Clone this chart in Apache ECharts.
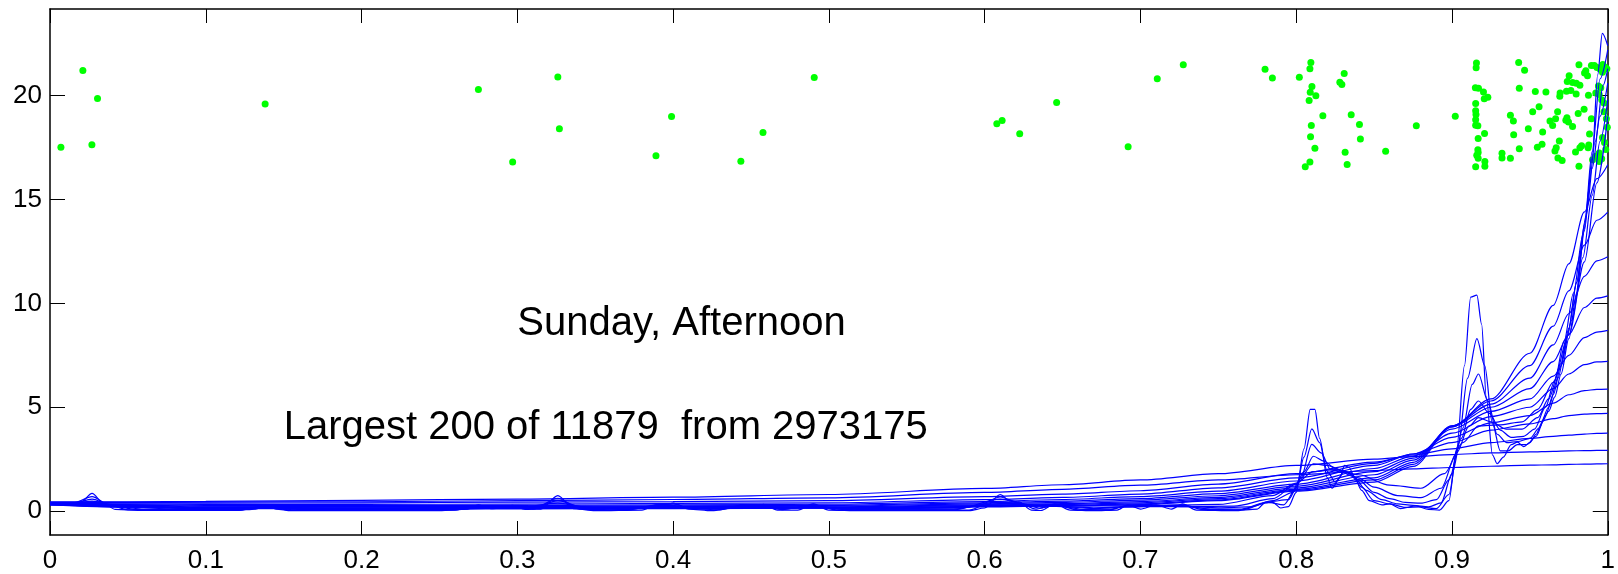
<!DOCTYPE html>
<html>
<head>
<meta charset="utf-8">
<script src="https://cdn.jsdelivr.net/npm/echarts@6/dist/echarts.min.js"></script>
<style>
  html, body { margin: 0; padding: 0; background: #fff; }
  #chart { width: 1618px; height: 574px; }
</style>
</head>
<body>
<div id="chart"></div>
<script>
// tick values
const xTicks = [0, 0.1, 0.2, 0.3, 0.4, 0.5, 0.6, 0.7, 0.8, 0.9, 1]
const yTicks = [0, 5, 10, 15, 20]

// annotations: [x, y, text]
const title = [0.3, 9, 'Sunday, Afternoon']
const subtitle = [0.15, 4, 'Largest 200 of 11879  from 2973175']

// the 200 largest values (x) plotted with a jittered height (y)
const points = [
  [0.0070, 17.52], [0.0211, 21.21], [0.0269, 17.64], [0.0305, 19.86], [0.1381, 19.60],
  [0.275, 20.3], [0.297, 16.8], [0.326, 20.9], [0.327, 18.4], [0.389, 17.1], [0.399, 19.0],
  [0.4435, 16.84], [0.4577, 18.23], [0.4906, 20.87],
  [0.6078, 18.65], [0.6112, 18.80], [0.6225, 18.16], [0.6462, 19.67], [0.6921, 17.54], [0.7108, 20.81], [0.7275, 21.49],
  [0.7800, 21.27], [0.7847, 20.85], [0.8020, 20.88], [0.8094, 21.6], [0.8088, 21.29], [0.8101, 20.44], [0.8090, 20.16],
  [0.8126, 20.0], [0.8083, 19.76], [0.8171, 19.03], [0.8097, 18.56], [0.8092, 18.02], [0.8120, 17.47], [0.8088, 16.8],
  [0.8058, 16.58], [0.8308, 21.06], [0.8280, 20.64], [0.8293, 20.53], [0.8353, 19.08], [0.8406, 18.61], [0.8412, 17.91],
  [0.8314, 17.27], [0.8327, 16.69], [0.8574, 17.32], [0.8771, 18.55],
  [0.9021, 19.01], [0.9157, 21.57], [0.9155, 21.34], [0.915, 20.38], [0.917, 20.35], [0.9202, 20.18], [0.9230, 19.92],
  [0.9207, 19.85], [0.9152, 19.62], [0.9152, 19.27], [0.9154, 19.09], [0.9152, 18.84], [0.9152, 18.58], [0.9166, 18.55],
  [0.9209, 18.18], [0.9168, 17.94], [0.9166, 17.39], [0.9168, 17.26], [0.9159, 17.13], [0.9168, 16.98], [0.9211, 16.83],
  [0.9211, 16.60], [0.9152, 16.58],
  [0.9321, 17.23], [0.9321, 17.0], [0.9375, 16.98], [0.9375, 19.06], [0.9394, 18.78], [0.9396, 18.12], [0.9432, 17.44],
  [0.9428, 21.6], [0.9466, 21.22], [0.9432, 20.35], [0.9490, 18.4], [0.9518, 19.22], [0.9535, 20.2], [0.9559, 19.47],
  [0.9548, 17.52], [0.9582, 18.25], [0.9578, 17.66], [0.9603, 20.18], [0.9629, 18.78], [0.9646, 18.56], [0.9665, 18.89],
  [0.9678, 19.22], [0.9689, 17.82], [0.9669, 17.49], [0.9661, 17.33], [0.9680, 17.0], [0.9707, 16.88], [0.9694, 20.13],
  [0.9692, 19.97], [0.9735, 20.21], [0.9763, 20.25], [0.9740, 20.68], [0.9752, 20.96], [0.9774, 20.63], [0.9798, 20.59],
  [0.9821, 20.5], [0.9731, 18.81], [0.9748, 18.73], [0.9738, 18.93], [0.9774, 18.51], [0.9797, 20.08], [0.9810, 19.14],
  [0.9848, 19.34], [0.9876, 20.02], [0.9815, 21.49], [0.9793, 17.29], [0.9821, 17.49], [0.9832, 17.59], [0.9815, 16.6],
  [0.9851, 21.09], [0.9859, 21.2], [0.9870, 20.96], [0.9895, 21.45], [0.9914, 21.45], [0.9931, 21.35], [0.9968, 21.5],
  [0.9983, 21.37], [0.9994, 21.29], [0.9949, 21.29], [0.9966, 21.12], [0.9883, 18.15], [0.9878, 17.62], [0.9874, 17.49],
  [0.9902, 16.91], [0.9923, 17.08], [0.9940, 20.46], [0.9955, 20.38], [0.9961, 19.8], [0.9976, 19.64], [0.9976, 19.22],
  [0.9991, 18.89], [0.9997, 18.48], [0.9966, 17.99], [0.9979, 17.74], [0.9987, 17.41], [0.9945, 17.24], [0.9961, 16.96],
  [0.9945, 16.83], [0.9923, 20.13], [0.9945, 20.05], [0.9895, 18.89]
]

// smoothed curves, sharpest first ([x, y])
const s1 = [[0,0.3],[0.012,0.33],[0.02,0.45],[0.027,0.85],[0.034,0.4],[0.042,0.08],[0.06,0.03],[0.12,0.03],[0.132,0.1],[0.138,0.3],[0.145,0.1],[0.155,0.02],[0.25,0.02],[0.268,0.1],[0.275,0.3],[0.283,0.12],[0.29,0.15],[0.297,0.28],[0.305,0.08],[0.315,0.1],[0.326,0.75],[0.336,0.12],[0.35,0.02],[0.38,0.05],[0.389,0.3],[0.395,0.3],[0.4,0.38],[0.41,0.1],[0.425,0.02],[0.438,0.15],[0.443,0.3],[0.45,0.15],[0.458,0.32],[0.467,0.05],[0.48,0.05],[0.49,0.35],[0.5,0.05],[0.52,0.02],[0.59,0.02],[0.6,0.15],[0.61,0.8],[0.616,0.5],[0.622,0.45],[0.63,0.05],[0.636,0.03],[0.645,0.35],[0.655,0.05],[0.67,0.02],[0.685,0.05],[0.692,0.3],[0.7,0.1],[0.71,0.3],[0.72,0.1],[0.727,0.35],[0.736,0.05],[0.76,0.02],[0.775,0.1],[0.78,0.4],[0.785,0.42],[0.79,0.15],[0.795,0.22],[0.8,0.9],[0.805,3.0],[0.809,4.9],[0.812,4.9],[0.815,3.5],[0.82,1.6],[0.823,1.1],[0.828,1.6],[0.831,2.2],[0.834,2.1],[0.838,1.5],[0.842,1.0],[0.847,0.5],[0.855,0.3],[0.86,0.35],[0.867,0.12],[0.877,0.25],[0.885,0.08],[0.892,0.05],[0.898,0.5],[0.903,3.0],[0.908,7.0],[0.912,10.3],[0.916,10.4],[0.919,9.0],[0.922,5.5],[0.926,2.7],[0.929,2.28],[0.933,2.6],[0.938,3.2],[0.942,3.32],[0.946,3.1],[0.95,3.3],[0.954,3.7],[0.958,4.3],[0.962,4.8],[0.966,5.5],[0.97,6.6],[0.975,8.3],[0.98,10.5],[0.985,13.5],[0.99,17.0],[0.9935,21.0],[0.9965,23.0],[1.0,22.4]]
const s2 = [[0,0.32],[0.015,0.4],[0.027,0.7],[0.038,0.3],[0.05,0.06],[0.12,0.04],[0.138,0.25],[0.155,0.04],[0.26,0.05],[0.275,0.25],[0.286,0.15],[0.297,0.23],[0.31,0.1],[0.326,0.62],[0.34,0.1],[0.37,0.05],[0.39,0.3],[0.4,0.35],[0.412,0.12],[0.43,0.06],[0.443,0.26],[0.45,0.2],[0.458,0.28],[0.47,0.07],[0.49,0.3],[0.505,0.06],[0.59,0.05],[0.61,0.68],[0.622,0.4],[0.633,0.1],[0.645,0.3],[0.66,0.06],[0.68,0.06],[0.692,0.28],[0.71,0.28],[0.727,0.3],[0.74,0.08],[0.765,0.06],[0.782,0.42],[0.792,0.3],[0.8,1.1],[0.805,2.6],[0.81,3.96],[0.815,3.3],[0.82,1.9],[0.825,1.4],[0.831,1.9],[0.836,1.75],[0.842,1.15],[0.85,0.5],[0.86,0.35],[0.87,0.18],[0.88,0.2],[0.89,0.12],[0.898,0.8],[0.904,3.2],[0.91,6.4],[0.916,8.3],[0.921,7.0],[0.926,4.2],[0.931,2.9],[0.936,2.9],[0.942,3.2],[0.948,3.2],[0.954,3.6],[0.96,4.6],[0.965,5.6],[0.97,7.0],[0.975,8.8],[0.98,11.0],[0.985,13.8],[0.99,17.3],[0.995,20.8],[1.0,22.2]]
const s3 = [[0,0.33],[0.015,0.38],[0.027,0.58],[0.04,0.25],[0.055,0.08],[0.12,0.05],[0.138,0.2],[0.16,0.05],[0.26,0.07],[0.275,0.22],[0.297,0.2],[0.31,0.14],[0.326,0.5],[0.345,0.1],[0.37,0.08],[0.395,0.3],[0.415,0.12],[0.43,0.1],[0.45,0.24],[0.47,0.1],[0.49,0.26],[0.51,0.07],[0.58,0.06],[0.61,0.58],[0.625,0.35],[0.635,0.15],[0.645,0.26],[0.665,0.08],[0.68,0.1],[0.692,0.25],[0.71,0.26],[0.727,0.26],[0.745,0.1],[0.765,0.1],[0.782,0.45],[0.795,0.55],[0.803,1.6],[0.81,3.21],[0.816,2.8],[0.822,2.0],[0.83,1.85],[0.837,1.65],[0.845,1.0],[0.855,0.55],[0.865,0.35],[0.875,0.28],[0.885,0.2],[0.893,0.4],[0.9,1.8],[0.907,4.0],[0.913,6.1],[0.917,6.6],[0.923,5.3],[0.929,3.7],[0.935,3.3],[0.942,3.35],[0.95,3.5],[0.956,4.0],[0.962,5.0],[0.968,6.4],[0.974,8.4],[0.98,11.0],[0.986,14.2],[0.992,17.8],[0.997,20.5],[1.0,21.3]]
const s4 = [[0,0.34],[0.015,0.37],[0.027,0.48],[0.045,0.2],[0.06,0.1],[0.12,0.07],[0.138,0.17],[0.165,0.07],[0.26,0.08],[0.28,0.18],[0.3,0.17],[0.326,0.38],[0.35,0.12],[0.37,0.12],[0.395,0.26],[0.42,0.13],[0.45,0.2],[0.47,0.14],[0.49,0.2],[0.52,0.1],[0.58,0.1],[0.61,0.45],[0.63,0.3],[0.645,0.25],[0.67,0.12],[0.69,0.2],[0.71,0.24],[0.73,0.22],[0.75,0.16],[0.77,0.2],[0.785,0.5],[0.798,0.9],[0.805,1.9],[0.811,2.64],[0.818,2.4],[0.825,2.05],[0.833,1.85],[0.84,1.5],[0.85,0.9],[0.86,0.6],[0.87,0.42],[0.88,0.38],[0.89,0.55],[0.898,1.5],[0.906,3.5],[0.912,4.9],[0.917,5.3],[0.924,4.7],[0.931,3.9],[0.938,3.55],[0.946,3.6],[0.953,3.95],[0.96,5.0],[0.966,6.3],[0.972,8.2],[0.978,10.5],[0.984,13.3],[0.99,16.5],[0.995,19.0],[1.0,20.6]]
const s5 = [[0,0.35],[0.02,0.38],[0.03,0.4],[0.05,0.2],[0.08,0.1],[0.12,0.1],[0.138,0.15],[0.17,0.09],[0.26,0.1],[0.3,0.16],[0.326,0.28],[0.36,0.14],[0.395,0.22],[0.43,0.16],[0.46,0.19],[0.49,0.17],[0.53,0.12],[0.58,0.14],[0.61,0.36],[0.64,0.24],[0.67,0.16],[0.7,0.22],[0.73,0.22],[0.76,0.24],[0.785,0.6],[0.8,1.3],[0.811,2.28],[0.82,2.2],[0.83,1.95],[0.84,1.6],[0.85,1.15],[0.865,0.75],[0.88,0.65],[0.893,1.1],[0.903,2.8],[0.911,4.1],[0.917,4.5],[0.925,4.3],[0.935,3.95],[0.945,3.95],[0.955,4.5],[0.962,5.4],[0.97,7.1],[0.977,9.2],[0.984,12.2],[0.99,15.2],[0.995,17.8],[1.0,19.8]]
const s6 = [[0,0.36],[0.03,0.36],[0.06,0.2],[0.1,0.13],[0.138,0.14],[0.2,0.11],[0.3,0.14],[0.326,0.2],[0.4,0.18],[0.46,0.17],[0.5,0.15],[0.58,0.18],[0.61,0.3],[0.65,0.25],[0.7,0.25],[0.75,0.32],[0.785,0.75],[0.8,1.35],[0.811,1.9],[0.825,2.0],[0.84,1.75],[0.86,1.25],[0.88,1.1],[0.895,1.8],[0.907,3.3],[0.917,4.1],[0.93,4.15],[0.945,4.3],[0.955,4.9],[0.965,6.2],[0.975,8.5],[0.985,12.0],[0.993,15.8],[1.0,19.0]]

// wider smoothers share one x grid
const gridX = [0, 0.05, 0.1, 0.2, 0.3, 0.4, 0.5, 0.6, 0.65, 0.7, 0.75, 0.8, 0.85, 0.875, 0.9, 0.925, 0.95, 0.965, 0.975, 0.985, 0.993, 1.0]
const s7 = [0.3,0.19,0.12,0.11,0.11,0.12,0.14,0.2,0.25,0.31,0.5,0.96,1.4,2.15,4.05,5.4,7.6,9.9,11.9,14.4,16.0,16.67]
const s8 = [0.31,0.2,0.14,0.12,0.13,0.14,0.16,0.23,0.28,0.35,0.54,1.0,1.5,2.25,4.1,5.3,7.0,8.9,10.6,12.8,14.0,14.39]
const s9 = [0.31,0.22,0.16,0.14,0.15,0.16,0.18,0.26,0.32,0.4,0.6,1.05,1.6,2.35,4.1,5.15,6.4,8.0,9.5,11.3,12.05,12.24]
const s10 = [0.32,0.24,0.18,0.16,0.17,0.19,0.21,0.3,0.36,0.46,0.66,1.12,1.75,2.45,4.05,5.0,5.9,7.2,8.5,9.8,10.25,10.36]
const s11 = [0.33,0.26,0.21,0.19,0.2,0.22,0.24,0.35,0.42,0.53,0.74,1.2,1.9,2.55,3.95,4.8,5.4,6.5,7.5,8.35,8.62,8.70]
const s12 = [0.34,0.28,0.24,0.22,0.23,0.25,0.28,0.4,0.48,0.6,0.84,1.3,2.05,2.65,3.75,4.55,5.0,5.9,6.6,7.05,7.18,7.21]
const s13 = [0.35,0.31,0.28,0.27,0.28,0.3,0.33,0.46,0.56,0.7,0.96,1.45,2.2,2.75,3.55,4.25,4.6,5.2,5.6,5.8,5.86,5.87]
const s14 = [0.37,0.34,0.32,0.32,0.34,0.37,0.4,0.55,0.66,0.82,1.12,1.6,2.3,2.75,3.3,3.9,4.2,4.45,4.6,4.67,4.69,4.70]
const s15 = [0.4,0.38,0.38,0.4,0.43,0.46,0.5,0.7,0.82,0.98,1.3,1.8,2.36,2.7,3.0,3.3,3.5,3.6,3.66,3.71,3.74,3.75]
const s16 = [0.45,0.45,0.47,0.52,0.58,0.67,0.8,1.09,1.27,1.5,1.8,2.2,2.5,2.62,2.72,2.8,2.85,2.88,2.9,2.91,2.92,2.92]
const s17 = [0.42,0.42,0.43,0.45,0.5,0.56,0.64,0.9,1.05,1.25,1.5,1.75,1.95,2.03,2.1,2.16,2.21,2.23,2.25,2.26,2.27,2.28]

const sharpCurves = [s1, s2, s3, s4, s5, s6]
const wideCurves = [s7, s8, s9, s10, s11, s12, s13, s14, s15, s16, s17]

const font = '"Liberation Sans", Arial, sans-serif'
const chart = echarts.init(document.getElementById('chart'))

function xLabel (v) {
  if (v === 0 || v === 1) return String(v)
  return v.toFixed(1)
}

const lineSeries = []
sharpCurves.concat(wideCurves.map(ys => ys.map((y, i) => [gridX[i], y]))).forEach(d => {
  lineSeries.push({
    type: 'line',
    data: d,
    symbol: 'none',
    smooth: 0.3,
    smoothMonotone: 'x',
    z: 3,
    lineStyle: { color: '#0000ff', width: 1.2 },
    silent: true
  })
})

const tickStyle = { color: '#000', width: 1 }

let option = {
  animation: false,
  backgroundColor: '#fff',
  grid: { left: 50, right: 6, top: 9, bottom: 37, containLabel: false },
  xAxis: [
    {
      type: 'value', min: 0, max: 1, interval: 0.1, position: 'bottom',
      axisLine: { show: true, onZero: false, lineStyle: { color: '#000', width: 1.5 } },
      axisTick: { show: true, inside: true, length: 14, lineStyle: tickStyle },
      axisLabel: { fontSize: 26, color: '#000', fontFamily: font, margin: 13, formatter: xLabel },
      splitLine: { show: false }
    },
    {
      type: 'value', min: 0, max: 1, interval: 0.1, position: 'top',
      axisLine: { show: true, onZero: false, lineStyle: { color: '#000', width: 1.5 } },
      axisTick: { show: true, inside: true, length: 14, lineStyle: tickStyle },
      axisLabel: { show: false },
      splitLine: { show: false }
    }
  ],
  yAxis: [
    {
      type: 'value', min: -1.15, max: 24.17, position: 'left',
      axisLine: { show: true, onZero: false, lineStyle: { color: '#000', width: 1.5 } },
      axisTick: { show: true, inside: true, length: 15, lineStyle: tickStyle, customValues: yTicks },
      axisLabel: { fontSize: 26, color: '#000', fontFamily: font, margin: 8, customValues: yTicks },
      splitLine: { show: false }
    },
    {
      type: 'value', min: -1.15, max: 24.17, position: 'right',
      axisLine: { show: true, onZero: false, lineStyle: { color: '#000', width: 1.5 } },
      axisTick: { show: true, inside: true, length: 15, lineStyle: tickStyle, customValues: yTicks },
      axisLabel: { show: false },
      splitLine: { show: false }
    }
  ],
  series: [
    {
      type: 'scatter',
      data: points,
      symbolSize: 7,
      z: 2,
      itemStyle: { color: '#00ff00', opacity: 1 },
      silent: true
    }
  ].concat(lineSeries)
}
chart.setOption(option)

// place the two text notes at their data positions
const p1 = chart.convertToPixel({ gridIndex: 0 }, [title[0], title[1]])
const p2 = chart.convertToPixel({ gridIndex: 0 }, [subtitle[0], subtitle[1]])
chart.setOption({
  graphic: [
    { type: 'text', x: p1[0], y: p1[1], z: 10,
      style: { text: title[2], font: '40px ' + font, fill: '#000', textAlign: 'left', textVerticalAlign: 'middle' } },
    { type: 'text', x: p2[0], y: p2[1], z: 10,
      style: { text: subtitle[2], font: '40px ' + font, fill: '#000', textAlign: 'left', textVerticalAlign: 'middle' } }
  ]
})
</script>
</body>
</html>
